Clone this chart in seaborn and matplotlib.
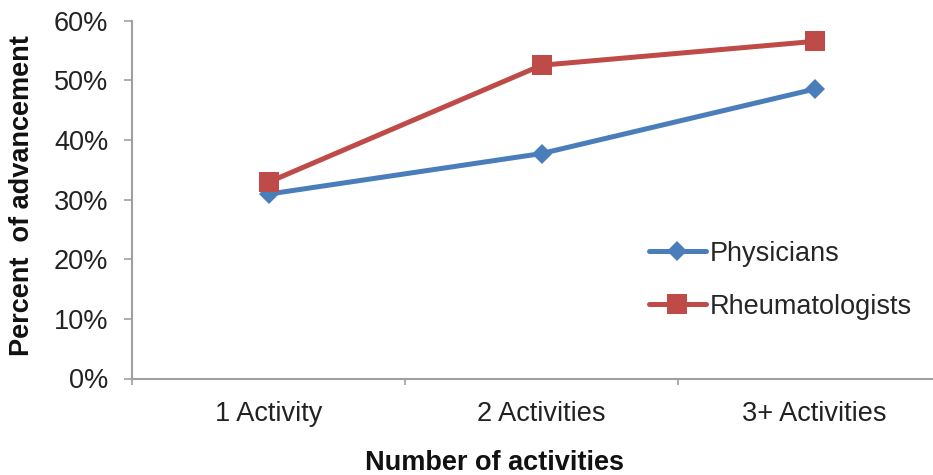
import matplotlib
matplotlib.use("Agg")
import matplotlib.pyplot as plt
import matplotlib.ticker as mticker
import pandas as pd
import seaborn as sns

# Data
categories = ["1 Activity", "2 Activities", "3+ Activities"]
physicians = [0.309, 0.377, 0.485]
rheumatologists = [0.329, 0.525, 0.565]
y_ticks = [0.0, 0.1, 0.2, 0.3, 0.4, 0.5, 0.6]

df_phys = pd.DataFrame({"activities": categories, "pct": physicians})
df_rheu = pd.DataFrame({"activities": categories, "pct": rheumatologists})

sns.set_theme(style="ticks")
plt.rcParams["font.family"] = ["Liberation Sans", "DejaVu Sans"]

grey = "#a0a0a0"
blue = "#4a7ebb"
red = "#be4b48"
fs = 19.5

fig = plt.figure(figsize=(9.33, 4.75), dpi=100)
ax = fig.add_axes([132 / 933, 1 - 378.5 / 475, (951 - 132) / 933, (378.5 - 20.5) / 475])

sns.lineplot(data=df_phys, x="activities", y="pct", ax=ax, color=blue,
             marker="D", markersize=10.5, markeredgewidth=0, lw=3.6,
             label="Physicians", sort=False)
sns.lineplot(data=df_rheu, x="activities", y="pct", ax=ax, color=red,
             marker="s", markersize=15, markeredgewidth=0, lw=3.6,
             label="Rheumatologists", sort=False)

ax.set_xlim(-0.5, 2.5)
ax.set_ylim(0, 0.6)
ax.set_yticks(y_ticks)
ax.yaxis.set_major_formatter(mticker.PercentFormatter(1.0, decimals=0))

# category labels centred, tick marks at the category boundaries
ax.set_xticks(range(len(categories)))
ax.set_xticklabels(categories)
ax.set_xticks([-0.5, 0.5, 1.5, 2.5], minor=True)
ax.tick_params(axis="x", which="major", length=0, pad=16, labelsize=fs, labelcolor="#222222")
ax.tick_params(axis="x", which="minor", length=4.5, width=1.2, color=grey, direction="out")
ax.tick_params(axis="y", length=6, width=1.2, color=grey, direction="out",
               pad=11, labelsize=fs, labelcolor="#222222")

for side in ("top", "right"):
    ax.spines[side].set_visible(False)
for side in ("left", "bottom"):
    ax.spines[side].set_color(grey)
    ax.spines[side].set_linewidth(1.5)

ax.set_ylabel("Percent  of advancement", fontsize=fs, fontweight="bold", color="#111111")
ax.set_xlabel("Number of activities", fontsize=fs, fontweight="bold", color="#111111")
ax.yaxis.set_label_coords(-0.119, 0.51)
ax.xaxis.set_label_coords(0.4426, -0.2)

leg = ax.legend(loc="upper left", bbox_to_anchor=(0.631, 0.385), frameon=False,
                fontsize=fs, handlelength=2.1, handletextpad=0.15,
                labelspacing=1.0, borderpad=0, borderaxespad=0)

fig.savefig("out.png", dpi=100)
